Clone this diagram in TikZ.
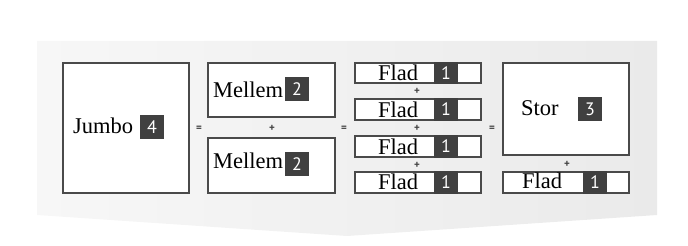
\documentclass[tikz,border=0pt]{standalone}
\usepackage{fontspec}
\setmainfont{Liberation Serif}
\newfontfamily\badgefont{PT Sans}
\definecolor{boxgray}{HTML}{4A4A4A}
\definecolor{badgegray}{HTML}{404040}
\definecolor{panelL}{HTML}{F7F7F7}
\definecolor{panelR}{HTML}{EAEAEA}
\definecolor{signgray}{HTML}{444444}
\begin{document}
\begin{tikzpicture}[x=1pt,y=-1pt,
  box/.style={draw=boxgray,line width=2.2pt,fill=white,anchor=north west,inner sep=0pt,outer sep=0pt},
  lbl/.style={anchor=base west,inner sep=0pt,font=\fontsize{22.5}{27}\selectfont},
  clbl/.style={anchor=base,inner sep=0pt,font=\fontsize{22.5}{27}\selectfont},
  badge/.style={fill=badgegray,text=white,minimum width=24pt,minimum height=24pt,inner sep=0pt,font=\badgefont\fontsize{18}{18}\selectfont},
  fbadge/.style={badge,minimum height=22pt},
  sign/.style={text=signgray,inner sep=0pt,font=\badgefont\bfseries\fontsize{11}{11}\selectfont}]
\useasboundingbox (0,0) rectangle (688,246);
\shade[left color=panelL,right color=panelR] (37,41) -- (657,41) -- (657,215) -- (347,236) -- (37,215) -- cycle;

% Jumbo
\node[box,minimum width=126pt,minimum height=130pt] (jumbo) at (63,63) {};
\node[lbl] (jumbotxt) at (73,133) {Jumbo};
\node[badge] (b4) at (152,127) {4};

% Mellem
\node[box,minimum width=127pt,minimum height=54pt] (mel1) at (208,63) {};
\node[lbl] (mel1txt) at (213,97) {Mellem};
\node[badge] (b2a) at (297,89) {2};
\node[box,minimum width=127pt,minimum height=55pt] (mel2) at (208,138) {};
\node[lbl] (mel2txt) at (213,168) {Mellem};
\node[badge] (b2b) at (297,164) {2};

% Flad column
\node[box,minimum width=126pt,minimum height=20pt] (f1) at (355,63) {};
\node[fbadge,minimum height=22pt] (f1b) at (446,73) {1};
\node[clbl] (f1t) at (398,81) {Flad};
\node[box,minimum width=126pt,minimum height=21pt] (f2) at (355,99) {};
\node[fbadge,minimum height=23pt] (f2b) at (446,109.5) {1};
\node[clbl] (f2t) at (398,117) {Flad};
\node[box,minimum width=126pt,minimum height=21pt] (f3) at (355,136) {};
\node[fbadge,minimum height=23pt] (f3b) at (446,146.5) {1};
\node[clbl] (f3t) at (398,154) {Flad};
\node[box,minimum width=126pt,minimum height=21pt] (f4) at (355,172) {};
\node[fbadge,minimum height=23pt] (f4b) at (446,182.5) {1};
\node[clbl] (f4t) at (398,189) {Flad};

% Stor
\node[box,minimum width=126pt,minimum height=92pt] (stor) at (503,63) {};
\node[lbl] (stortxt) at (521,115) {Stor};
\node[badge] (b3) at (590,109) {3};
\node[box,minimum width=126pt,minimum height=21pt] (f5) at (503,172) {};
\node[fbadge,minimum height=23pt] (f5b) at (595,182.5) {1};
\node[clbl] (f5t) at (542,188) {Flad};

% signs
\node[sign] (eq1) at (199,129) {=};
\node[sign] (eq2) at (344,129) {=};
\node[sign] (eq3) at (492,129) {=};
\node[sign] (p1) at (272,128) {+};
\node[sign] (p2) at (417,91) {+};
\node[sign] (p3) at (417,128) {+};
\node[sign] (p4) at (417,165) {+};
\node[sign] (p5) at (567,164) {+};
\end{tikzpicture}
\end{document}
